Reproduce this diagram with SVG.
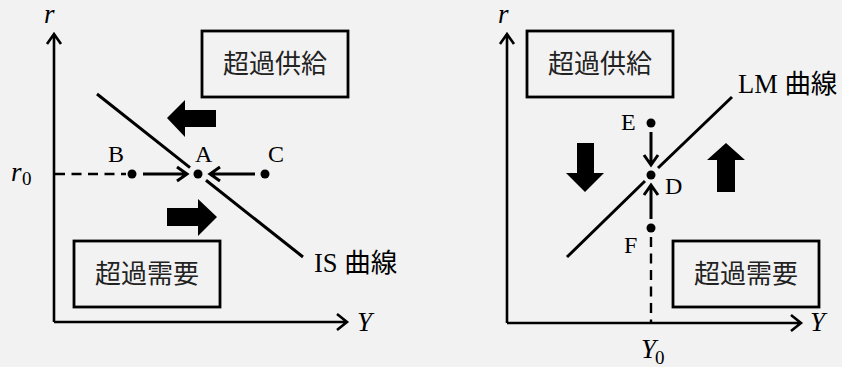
<svg xmlns="http://www.w3.org/2000/svg" width="842" height="367" viewBox="0 0 842 367">
<defs>
<style>
.ax{stroke:#000;stroke-width:2.6;fill:none}
.crv{stroke:#000;stroke-width:3;fill:none}
.dash{stroke:#000;stroke-width:2.4;fill:none;stroke-dasharray:10 6.5}
.arr{stroke:#000;stroke-width:3;fill:none;stroke-linecap:butt}
.box{stroke:#000;stroke-width:2.8;fill:none}
.big{fill:#000}
.dot{fill:#000}
.lbl{font-family:"Liberation Serif","Noto Sans CJK JP",serif;font-size:24px;fill:#000}
.crl{font-family:"Liberation Serif","Noto Sans CJK JP",serif;font-size:26.5px;fill:#000}
.var{font-family:"Liberation Serif",serif;font-style:italic;font-size:27px;fill:#000}
.sub{font-family:"Liberation Serif",serif;font-size:19px;fill:#000}
.jp{font-family:"Noto Sans CJK JP",sans-serif;font-size:26px;fill:#222;text-anchor:middle}
</style>
</defs>
<rect width="842" height="367" fill="#f2f2f2"/>

<g id="left-panel">
  <g id="left-axes">
    <path class="ax" d="M54,322 V34 M47,44 L54,34 L61,44"/>
    <path class="ax" d="M54,322 H347 M337,314 L347,322 L337,330"/>
    <text class="var" x="44" y="23">r</text>
    <text class="var" x="357" y="331">Y</text>
    <text class="var" x="11" y="181">r</text>
    <text class="sub" x="22" y="185">0</text>
  </g>
  <g id="box-supply-left">
    <rect class="box" x="202" y="31" width="146" height="66"/>
    <text class="jp" x="275" y="73">超過供給</text>
  </g>
  <g id="box-demand-left">
    <rect class="box" x="74" y="241" width="146" height="66"/>
    <text class="jp" x="147" y="283">超過需要</text>
  </g>
  <g id="is-curve">
    <path class="crv" d="M97,94 L190,167.6 M206,180.3 L303,257"/>
    <text class="crl" x="314" y="272">IS 曲線</text>
  </g>
  <g id="point-A">
    <circle class="dot" cx="198" cy="174" r="4.5"/>
    <text class="lbl" x="195" y="162">A</text>
  </g>
  <g id="point-B">
    <circle class="dot" cx="132" cy="174" r="4.5"/>
    <text class="lbl" x="108" y="162">B</text>
  </g>
  <g id="point-C">
    <circle class="dot" cx="265" cy="174" r="4.5"/>
    <text class="lbl" x="268" y="162">C</text>
  </g>
  <g id="big-arrow-left">
    <polygon class="big" points="167,118 185,100 185,110 216,110 216,127 185,127 185,137"/>
  </g>
  <g id="big-arrow-right">
    <polygon class="big" points="217,217 198,199 198,208 167,208 167,226 198,226 198,236"/>
  </g>
</g>

<g id="right-panel">
  <g id="right-axes">
    <path class="ax" d="M507,323 V34 M500,44 L507,34 L514,44"/>
    <path class="ax" d="M507,323 H801 M791,315 L801,323 L791,331"/>
    <text class="var" x="498" y="23">r</text>
    <text class="var" x="810" y="331">Y</text>
    <text class="var" x="641" y="358">Y</text>
    <text class="sub" x="655" y="364">0</text>
  </g>
  <g id="box-supply-right">
    <rect class="box" x="527" y="31" width="146" height="66"/>
    <text class="jp" x="600" y="73">超過供給</text>
  </g>
  <g id="box-demand-right">
    <rect class="box" x="673" y="241" width="146" height="66"/>
    <text class="jp" x="746" y="283">超過需要</text>
  </g>
  <g id="lm-curve">
    <path class="crv" d="M567,257 L645,181 M658,168 L732,97"/>
    <text class="crl" x="738" y="93">LM 曲線</text>
  </g>
  <g id="point-D">
    <circle class="dot" cx="651" cy="175" r="4.5"/>
    <text class="lbl" x="665" y="194">D</text>
  </g>
  <g id="point-E">
    <circle class="dot" cx="651" cy="123" r="4.5"/>
    <text class="lbl" x="621" y="130">E</text>
  </g>
  <g id="point-F">
    <circle class="dot" cx="651" cy="228" r="4.5"/>
    <text class="lbl" x="624" y="253">F</text>
  </g>
  <g id="big-arrow-down">
    <polygon class="big" points="585,192 566,173 577,173 577,143 594,143 594,173 604,173"/>
  </g>
  <g id="big-arrow-up">
    <polygon class="big" points="726,143 745,160 735,160 735,192 717,192 717,160 707,160"/>
  </g>
</g>

<g id="connectors">
  <path class="dash" d="M55,174 H126"/>
  <path class="dash" d="M651,237 V322"/>
  <path class="arr" d="M143,174 H187 M177,167 L187,174 L177,181"/>
  <path class="arr" d="M255,174 H210 M220,167 L210,174 L220,181"/>
  <path class="arr" d="M651,132 V165 M644,155 L651,165 L658,155"/>
  <path class="arr" d="M651,219 V185 M644,195 L651,185 L658,195"/>
</g>
</svg>
